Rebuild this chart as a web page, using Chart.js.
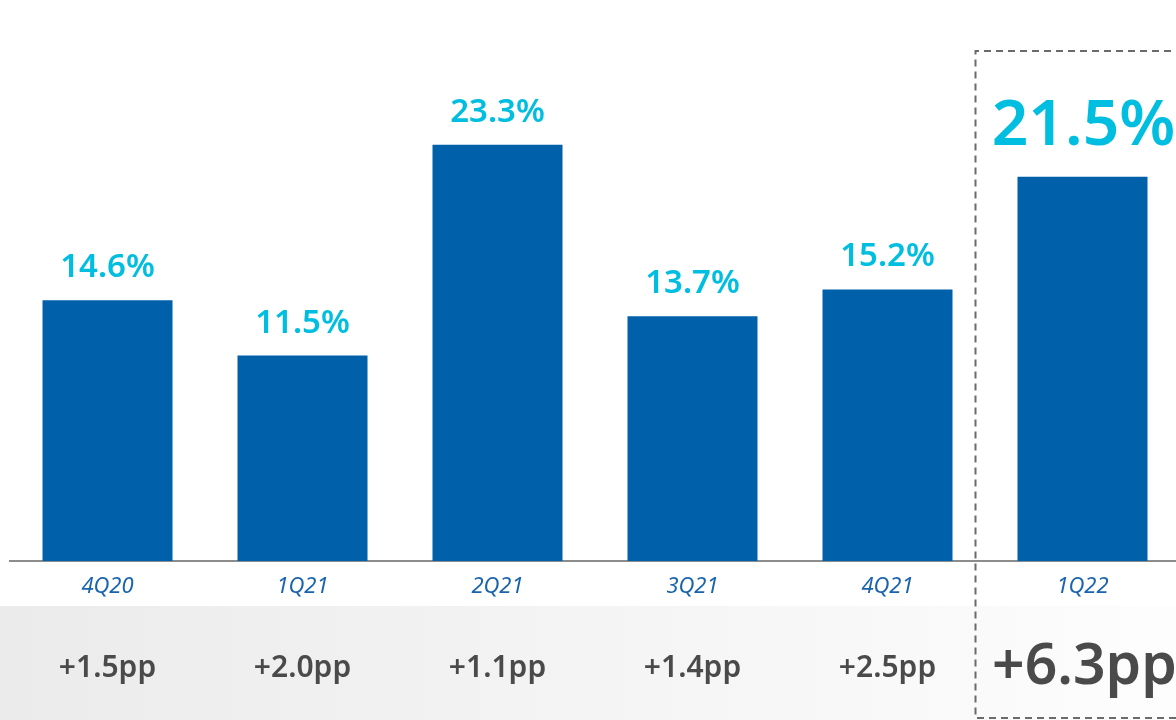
<!DOCTYPE html>
<html>
<head>
<meta charset="utf-8">
<script src="https://cdn.jsdelivr.net/npm/chart.js@4.4.1/dist/chart.umd.min.js"></script>
<style>
  html, body { margin: 0; padding: 0; background: #ffffff; overflow: hidden; }
  #wrap { width: 1176px; height: 720px; overflow: hidden; position: relative; }
  canvas { display: block; }
</style>
</head>
<body>
<div id="wrap"><canvas id="c" width="1190" height="720"></canvas></div>
<script>
const categories = ['4Q20', '1Q21', '2Q21', '3Q21', '4Q21', '1Q22'];
const values = [14.6, 11.5, 23.3, 13.7, 15.2, 21.5];
const valueLabels = ['14.6%', '11.5%', '23.3%', '13.7%', '15.2%', '21.5%'];
const deltaLabels = ['+1.5pp', '+2.0pp', '+1.1pp', '+1.4pp', '+2.5pp', '+6.3pp'];
const highlightIndex = 5;

const FONT = '"Noto Sans", "Open Sans", sans-serif';

const overlay = {
  id: 'overlay',
  beforeDraw(chart) {
    const ctx = chart.ctx;
    const w = chart.width;
    ctx.save();
    const g = ctx.createLinearGradient(0, 0, 1176, 0);
    g.addColorStop(0, '#ebebeb');
    g.addColorStop(1, '#fdfdfd');
    ctx.fillStyle = g;
    ctx.fillRect(0, 606, w, 720 - 606);
    ctx.restore();
  },
  afterDatasetsDraw(chart) {
    const ctx = chart.ctx;
    const meta = chart.getDatasetMeta(0);
    const xs = chart.scales.x;
    ctx.save();
    ctx.textAlign = 'center';
    ctx.textBaseline = 'alphabetic';
    meta.data.forEach((bar, i) => {
      const big = i === highlightIndex;
      ctx.fillStyle = '#00bee0';
      ctx.font = (big ? '600 64px ' : '600 33px ') + FONT;
      ctx.fillText(valueLabels[i], bar.x + (big ? 1 : 0), bar.y - (big ? 32 : 23));
      ctx.fillStyle = '#4a4a4a';
      ctx.font = (big ? '600 57px ' : '600 30px ') + FONT;
      ctx.fillText(deltaLabels[i], bar.x + (big ? 2 : 0), big ? 684 : 677);
    });
    // dashed highlight box
    const cx = xs.getPixelForValue(highlightIndex);
    const left = cx - 107;
    ctx.strokeStyle = '#6b6b6b';
    ctx.lineWidth = 2;
    ctx.setLineDash([7, 5]);
    ctx.beginPath();
    ctx.moveTo(chart.width + 5, 51);
    ctx.lineTo(left, 51);
    ctx.lineTo(left, 718);
    ctx.lineTo(chart.width + 5, 718);
    ctx.stroke();
    ctx.restore();
  }
};

new Chart(document.getElementById('c'), {
  type: 'bar',
  data: {
    labels: categories,
    datasets: [{
      data: values,
      backgroundColor: '#0061aa',
      borderWidth: 0,
      categoryPercentage: 1,
      barPercentage: 130 / 195
    }]
  },
  options: {
    responsive: false,
    animation: false,
    events: [],
    layout: { padding: { left: 10, right: 10, top: 25, bottom: 0 } },
    plugins: { legend: { display: false }, tooltip: { enabled: false } },
    scales: {
      x: {
        grid: { display: false, drawTicks: false },
        border: { display: true, color: '#8c8c8c', width: 2 },
        ticks: {
          color: '#1a64ad',
          font: { family: FONT, size: 22, style: 'italic' },
          padding: 13
        },
        afterFit(scale) { scale.height = 159; }
      },
      y: {
        display: false,
        min: 0,
        max: 30
      }
    }
  },
  plugins: [overlay]
});
</script>
</body>
</html>
